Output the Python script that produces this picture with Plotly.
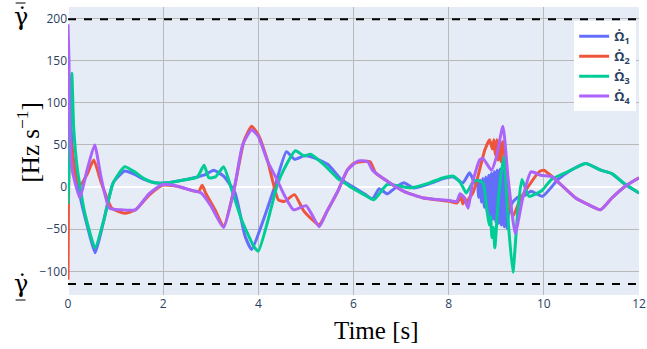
import plotly.graph_objects as go

# ---------------- data ----------------
t1 = [0, 0.03, 0.1, 0.25, 0.4, 0.57, 0.75, 0.95, 1.19, 1.4, 1.6, 1.82, 2.1, 2.4, 2.72, 2.9, 3.06, 3.27,
      3.51, 3.72, 3.86, 4.1, 4.36, 4.59, 4.76, 4.96, 5.11, 5.46, 5.74, 6.08, 6.25, 6.4, 6.54, 6.71, 6.9,
      7.06, 7.26, 7.6, 7.89, 8.1, 8.3, 8.44, 8.55, 8.6, 8.63, 8.66, 8.69, 8.72, 8.75, 8.78, 8.81, 8.84,
      8.87, 8.9, 8.93, 8.96, 8.99, 9.02, 9.05, 9.08, 9.11, 9.14, 9.17, 9.2, 9.23, 9.26,
      9.32, 9.45, 9.6, 9.73, 9.97, 10.3, 10.57, 10.88, 11.2, 11.43, 11.71, 12.0]
v1 = [20, 100, 40, -10, -45, -78, -40, 5, 19, 15, 9, 5, 5, 8, 12, 15, 20, 13,
      -7, -58, -74, -40, 3, 42, 33, 37, 36, 27, 9, -3, -9, -14, -2, -8, 0,
      5, -1, 4, 10, 12, 5, 17, 5, 5, -12, 8, -18, 10, -24, 12, -30, 14,
      -34, 16, -38, 18, -41, 20, -43, 21, -45, 20, -47, 10, -49, -30,
      -20, -12, -10, -5, -11, 9, 20, 28, 20, 16, 3, -7]

t2 = [0, 0.01, 0.04, 0.08, 0.15, 0.25, 0.4, 0.54, 0.7, 0.92, 1.19, 1.42, 1.7, 1.98, 2.3, 2.6, 2.75,
      2.82, 2.9, 3.1, 3.27, 3.5, 3.7, 3.86, 4.0, 4.2, 4.42, 4.55, 4.76, 4.95, 5.18, 5.28, 5.45, 5.67,
      5.87, 6.0, 6.15, 6.35, 6.46, 6.71, 7.06, 7.47, 8.02, 8.17, 8.26, 8.3, 8.34, 8.38, 8.42, 8.5, 8.58,
      8.76, 8.86, 8.92, 8.95, 8.98, 9.01, 9.04, 9.07, 9.1, 9.13, 9.16, 9.25, 9.35, 9.5, 9.63, 9.9,
      10.0, 10.14, 10.32, 10.67, 10.87, 11.19, 11.43, 11.71, 12.0]
v2 = [-110, -20, 60, 45, 15, 2, 15, 32, 5, -25, -31, -27, -10, 2, 1, -4, -5,
      2, -8, -28, -47, 0, 55, 72, 62, 30, -15, -17, -9, -28, -41, -45, -28, -5,
      20, 28, 30, 30, 17, 7, -5, -13, -17, -19, -12, -20, -13, -21, -14, -8, 5,
      44, 56, 45, 56, 38, 56, 32, 55, 30, 54, 48, -10, -35, -15, -3, 18,
      20, 14, 5, -13, -19, -27, -13, 1, 11]

t3 = [0, 0.04, 0.08, 0.12, 0.2, 0.35, 0.57, 0.75, 0.95, 1.19, 1.4, 1.6, 1.82, 2.1, 2.4, 2.72, 2.86,
      2.96, 3.1, 3.27, 3.45, 3.65, 3.9, 4.0, 4.2, 4.39, 4.53, 4.78, 4.96, 5.1, 5.39, 5.67, 5.81, 6.0,
      6.22, 6.43, 6.71, 7.19, 7.6, 7.89, 8.1, 8.25, 8.37, 8.5, 8.58, 8.72, 8.8, 8.85, 8.88, 8.91, 8.94,
      8.97, 9.05, 9.16, 9.25, 9.35, 9.45, 9.54, 9.69, 9.96, 10.16, 10.57, 10.88, 11.2, 11.43, 11.67, 12.0]
v3 = [-20, 60, 135, 70, 20, -30, -72, -40, 5, 24, 18, 10, 5, 5, 8, 12, 26,
      11, 12, 24, -5, -39, -70, -76, -40, 1, 20, 43, 37, 39, 26, 10, 5, -2,
      -9, -15, 3, -1, 5, 11, 13, 5, -7, 5, 8, 5, -25, -45, -35, -60, -48,
      -72, -10, 36, -40, -101, -30, 9, -11, -4, 9, 20, 28, 20, 16, 5, -7]

t4 = [0, 0.02, 0.04, 0.08, 0.15, 0.25, 0.4, 0.56, 0.7, 0.87, 1.1, 1.42, 1.7, 1.98, 2.3, 2.6, 2.8,
      3.0, 3.27, 3.5, 3.67, 3.86, 4.0, 4.2, 4.39, 4.55, 4.74, 5.0, 5.1, 5.28, 5.45, 5.67, 5.87, 6.1,
      6.3, 6.4, 6.71, 7.06, 7.47, 8.02, 8.17, 8.24, 8.32, 8.41, 8.5, 8.65, 8.72, 8.9, 9.0, 9.14, 9.25,
      9.4, 9.55, 9.73, 9.94, 10.18, 10.32, 10.67, 10.87, 11.19, 11.43, 11.71, 12.0]
v4 = [193, 150, 60, 23, 5, -13, 20, 50, 10, -25, -27, -27, -8, 3, 1, -4, -7,
      -22, -48, 0, 50, 68, 60, 30, 9, -10, -27, -22, -30, -47, -28, -5, 20, 31,
      30, 20, 7, -5, -13, -16, -17, -8, -12, -25, 5, 32, 34, 20, 35, 72, 10,
      -55, -15, 18, 14, 12, 5, -13, -19, -27, -13, 1, 11]

names = ["<b>Ω̇<sub>1</sub></b>", "<b>Ω̇<sub>2</sub></b>", "<b>Ω̇<sub>3</sub></b>", "<b>Ω̇<sub>4</sub></b>"]
colors = ["#636EFA", "#EF553B", "#00CC96", "#AB63FA"]

limit_upper = 199
limit_lower = -115
x_range = [0, 12]
y_range = [-128, 213.5]
x_ticks = [0, 2, 4, 6, 8, 10, 12]
y_ticks = [-100, -50, 0, 50, 100, 150, 200]

# ---------------- figure ----------------
W, H = 647, 349
ML, MR, MT, MB = 68, 1, 7, 54
PW, PH = W - ML - MR, H - MT - MB


def px_to_paper(px, py):
    return (px - ML) / PW, (H - MB - py) / PH


fig = go.Figure()
for tt, vv, nm, col in zip([t1, t2, t3, t4], [v1, v2, v3, v4], names, colors):
    fig.add_trace(go.Scatter(x=tt, y=vv, mode="lines", name=nm,
                             line=dict(color=col, width=3, shape="spline", smoothing=0.5)))

for lim in (limit_upper, limit_lower):
    fig.add_trace(go.Scatter(x=x_range, y=[lim, lim], mode="lines", showlegend=False,
                             hoverinfo="skip",
                             line=dict(color="black", width=2, dash="8px,8px")))

grid = "#b9b9b9"
fig.update_layout(
    width=W, height=H,
    margin=dict(l=ML, r=MR, t=MT, b=MB),
    template="plotly",
    plot_bgcolor="#E5ECF6",
    paper_bgcolor="white",
    font=dict(family="Open Sans", size=12, color="#2a3f5f"),
    legend=dict(x=0.995, xanchor="right", y=0.95, yanchor="top",
                bgcolor="white", font=dict(size=13, color="#2a3f5f"),
                tracegroupgap=0, itemwidth=30),
    showlegend=True,
)
fig.update_xaxes(range=x_range, tickvals=x_ticks, gridcolor=grid, gridwidth=1,
                 zeroline=True, zerolinecolor="white", zerolinewidth=2, ticks="",
                 ticklabeloverflow="allow")
fig.update_yaxes(range=y_range, tickvals=y_ticks, gridcolor=grid, gridwidth=1,
                 zeroline=True, zerolinecolor="white", zerolinewidth=2, ticks="")

serif = "Liberation Serif"


def label(text, px, py, size, angle=0, family=serif):
    ax, ay = px_to_paper(px, py)
    fig.add_annotation(text=text, x=ax, y=ay, xref="paper", yref="paper",
                       xanchor="center", yanchor="middle", textangle=angle,
                       showarrow=False, font=dict(family=family, size=size, color="black"))


label("Time [s]", 380, 330, 25)
label("[Hz s<sup>−1</sup>]", 28, 142, 25, angle=-90)
label("γ̇", 20, 17, 24, family="DejaVu Serif")
label("γ̇", 20, 284, 24, family="DejaVu Serif")

# bars over / under the gamma symbols
for (bx0, bx1, by) in ((15, 25, 3), (15, 25, 300)):
    x0, y0 = px_to_paper(bx0, by)
    x1, _ = px_to_paper(bx1, by)
    fig.add_shape(type="line", xref="paper", yref="paper", x0=x0, x1=x1, y0=y0, y1=y0,
                  line=dict(color="black", width=1))

fig.write_html("out.html")
